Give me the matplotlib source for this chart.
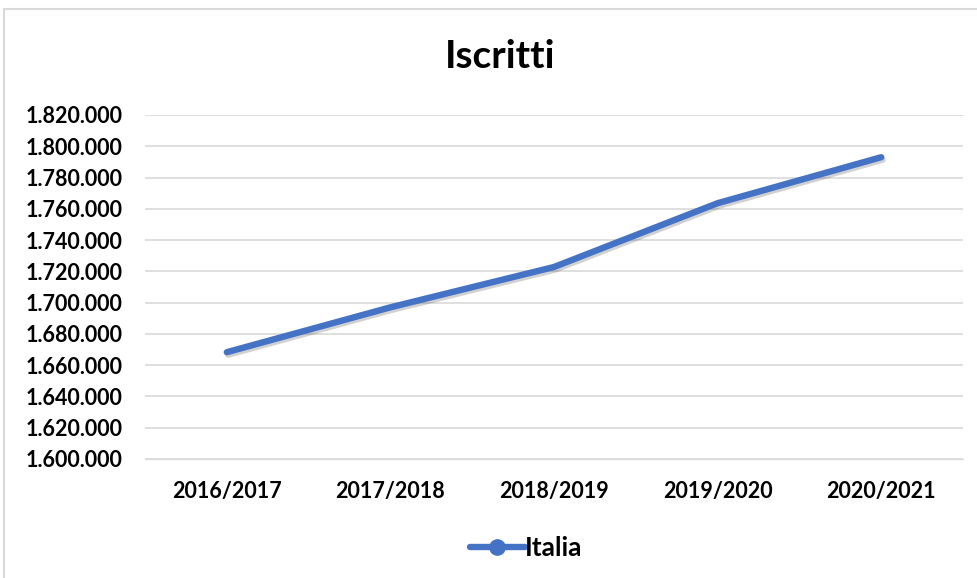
import matplotlib
matplotlib.use("Agg")
import matplotlib.pyplot as plt
from matplotlib.lines import Line2D
from matplotlib.patches import Rectangle
import matplotlib.patheffects as pe
from matplotlib.ticker import FuncFormatter

categories = ["2016/2017", "2017/2018", "2018/2019", "2019/2020", "2020/2021"]
italia = [1668300, 1697000, 1722800, 1763600, 1793000]
series_name = "Italia"
title = "Iscritti"
y_ticks = list(range(1600000, 1820001, 20000))

FONT = ["Lato", "DejaVu Sans"]
BLUE = "#4472C4"

fig = plt.figure(figsize=(9.78, 5.78), dpi=100)
fig.patch.set_facecolor("white")
# outer chart border
fig.patches.append(Rectangle((4 / 978, -0.1), 1.2, 1 - 9 / 578 + 0.1, transform=fig.transFigure,
                             fill=False, edgecolor="#D9D9D9", linewidth=1.5))

ax = fig.add_axes([145 / 978, 1 - 459 / 578, (963 - 145) / 978, (459 - 115) / 578])
x = list(range(len(categories)))
ax.plot(x, italia, color=BLUE, linewidth=4.6, solid_capstyle="round", solid_joinstyle="round",
        path_effects=[pe.SimpleLineShadow(offset=(1.0, -1.8), shadow_color="#303030", alpha=0.22),
                      pe.Normal()], zorder=3)

ax.set_xlim(-0.5, len(categories) - 0.5)
ax.set_ylim(y_ticks[0], y_ticks[-1])
ax.set_yticks(y_ticks)
ax.yaxis.set_major_formatter(FuncFormatter(lambda v, p: f"{int(v):,}".replace(",", ".")))
ax.set_xticks(x)
ax.set_xticklabels(categories)
ax.grid(axis="y", color="#D9D9D9", linewidth=1.2)
ax.set_axisbelow(True)
for s in ax.spines.values():
    s.set_visible(False)
ax.spines["bottom"].set_visible(True)
ax.spines["bottom"].set_color("#D9D9D9")
ax.tick_params(axis="both", length=0, labelsize=15.5, labelcolor="black")
ax.tick_params(axis="y", pad=16)
ax.tick_params(axis="x", pad=16)
for lab in ax.get_xticklabels() + ax.get_yticklabels():
    lab.set_fontweight("bold")
    lab.set_family(FONT)
for lab in ax.get_yticklabels():
    lab.set_horizontalalignment("right")

fig.text(500 / 978, 1 - 57 / 578, title, ha="center", va="center", fontsize=28, fontweight="bold",
         family=FONT)

handle = Line2D([0], [0], color=BLUE, linewidth=4.6, marker="o", markersize=11,
                markerfacecolor=BLUE, markeredgecolor=BLUE, solid_capstyle="round")
leg = fig.legend([handle], [series_name], loc="center", bbox_to_anchor=(526 / 978, 1 - 548 / 578),
                 frameon=False, prop={"family": FONT, "weight": "bold", "size": 19},
                 handlelength=2.1, handletextpad=0.0)

fig.savefig("out.png", dpi=100, facecolor="white")
